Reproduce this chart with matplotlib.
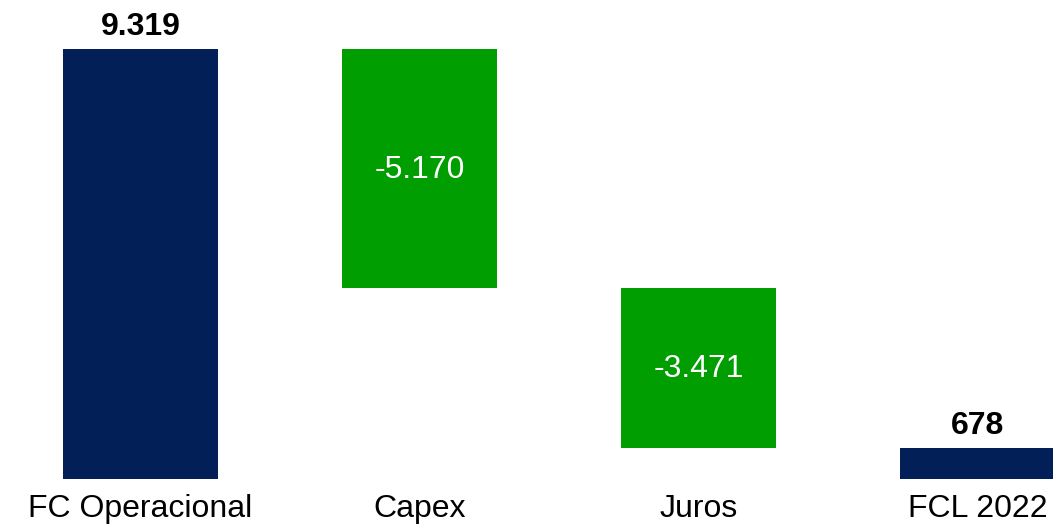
import matplotlib
matplotlib.use("Agg")
import matplotlib.pyplot as plt

categories = ["FC Operacional", "Capex", "Juros", "FCL 2022"]
values = [9319, -5170, -3471, 678]
kinds = ["total", "delta", "delta", "total"]

NAVY = "#021F57"
GREEN = "#009E00"

plt.rcParams["font.family"] = ["Liberation Sans", "DejaVu Sans"]

def fmt(v):
    s = f"{abs(v):,}".replace(",", ".")
    return ("-" if v < 0 else "") + s

fig = plt.figure(figsize=(10.53, 5.24), dpi=100)
ax = fig.add_axes([0, 45 / 524, 1, 479 / 524])

bottoms, heights, colors = [], [], []
running = 0
for v, k in zip(values, kinds):
    if k == "total":
        bottoms.append(0)
        heights.append(v)
        colors.append(NAVY)
        running = v
    else:
        new = running + v
        bottoms.append(min(running, new))
        heights.append(abs(v))
        colors.append(GREEN)
        running = new

x = list(range(len(categories)))
width = 155 / 279
ax.bar(x, heights, bottom=bottoms, width=width, color=colors, linewidth=0)

for xi, v, k, b, h in zip(x, values, kinds, bottoms, heights):
    if k == "total":
        ax.annotate(fmt(v), (xi, b + h), xytext=(0, 5), textcoords="offset points",
                    ha="center", va="bottom", fontsize=23, fontweight="bold", color="black")
    else:
        ax.annotate(fmt(v), (xi, b + h / 2), xytext=(0, -1), textcoords="offset points",
                    ha="center", va="center", fontsize=23, color="white")

ax.set_xlim(-140.5 / 279, (1053 - 140.5) / 279)
ax.set_ylim(0, 9319 * 479 / 430)
ax.set_xticks(x)
ax.set_xticklabels(categories, fontsize=23)
ax.tick_params(axis="x", length=0, pad=10.5)
ax.set_yticks([])
for s in ax.spines.values():
    s.set_visible(False)

fig.savefig("out.png", dpi=100)
